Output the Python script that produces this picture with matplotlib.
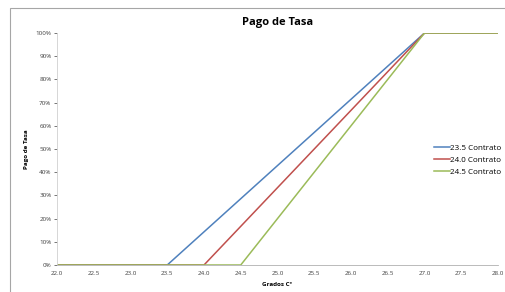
import matplotlib
matplotlib.use("Agg")
import matplotlib.pyplot as plt
from matplotlib.patches import Rectangle
from matplotlib.ticker import PercentFormatter

plt.rcParams['font.family'] = ['Open Sans', 'DejaVu Sans']

# breakpoints (x = grados, y = share paid)
labels = ['23.5 Contrato', '24.0 Contrato', '24.5 Contrato']
x_blue = [22.0, 23.5, 27.0, 28.0]
y_blue = [0.0, 0.0, 1.0, 1.0]
x_red = [22.0, 24.0, 27.0, 28.0]
y_red = [0.0, 0.0, 1.0, 1.0]
x_green = [22.0, 24.5, 27.0, 28.0]
y_green = [0.0, 0.0, 1.0, 1.0]
colors = ['#4F81BD', '#C0504D', '#9BBB59']

x_ticks = [22.0 + 0.5 * i for i in range(13)]
y_ticks = [i / 10 for i in range(11)]

fig = plt.figure(figsize=(5.05, 2.92), dpi=100)
fig.patches.append(Rectangle((10 / 505, -0.1), 1.2, 1 - 8 / 292 + 0.1,
                             transform=fig.transFigure, fill=False,
                             edgecolor='#A6A6A6', linewidth=0.8))

ax = fig.add_axes([57 / 505, 1 - 265 / 292, (498 - 57) / 505, (265 - 33) / 292])
ax.plot(x_blue, y_blue, color=colors[0], lw=1.1, label=labels[0])
ax.plot(x_red, y_red, color=colors[1], lw=1.1, label=labels[1])
ax.plot(x_green, y_green, color=colors[2], lw=1.1, label=labels[2])

ax.set_xlim(22.0, 28.0)
ax.set_ylim(0, 1)
ax.set_xticks(x_ticks)
ax.set_xticklabels([f'{v:.1f}' for v in x_ticks])
ax.set_yticks(y_ticks)
ax.yaxis.set_major_formatter(PercentFormatter(1.0, decimals=0))
ax.tick_params(labelsize=4.5, colors='#404040', length=2, width=0.5, pad=2)
ax.tick_params(axis='x', length=0, pad=4)
for side in ['top', 'right']:
    ax.spines[side].set_visible(False)
ax.spines['left'].set_color('#D0D0D0')
ax.spines['bottom'].set_color('#B0B0B0')
ax.spines['left'].set_linewidth(0.6)
ax.spines['bottom'].set_linewidth(0.6)

ax.set_title('Pago de Tasa', fontsize=8, fontweight='bold', pad=6)
ax.set_xlabel('Grados Cº', fontsize=4.5, fontweight='bold', labelpad=5)
ax.set_ylabel('Pago de Tasa', fontsize=4.5, fontweight='bold', labelpad=5)

ax.legend(loc='upper left', bbox_to_anchor=(431 / 505, 1 - 141 / 292),
          bbox_transform=fig.transFigure, frameon=False, fontsize=5.8,
          handlelength=1.9, handletextpad=0.1, labelspacing=0.55,
          borderaxespad=0)

fig.savefig('out.png', dpi=100)
